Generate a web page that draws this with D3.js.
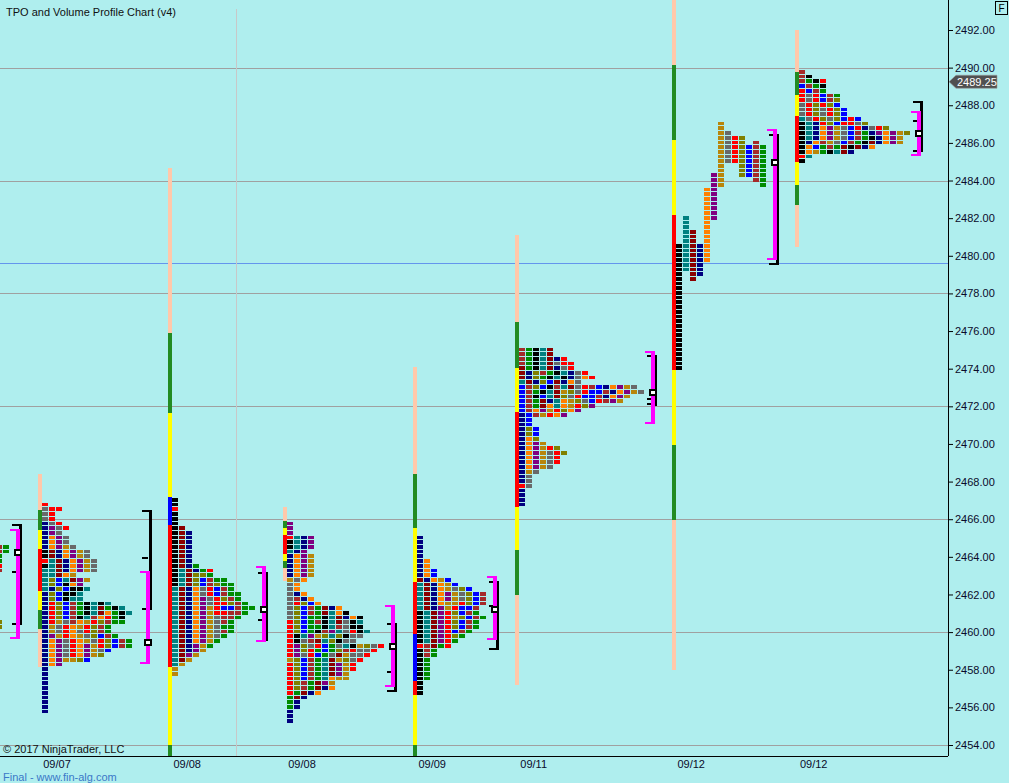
<!DOCTYPE html>
<html><head><meta charset="utf-8">
<script src="https://cdn.jsdelivr.net/npm/d3@7"></script>
<style>
body{margin:0;background:#afeeee;overflow:hidden}
svg{display:block;font-family:"Liberation Sans",Arial,sans-serif}
</style>
</head><body><svg id="c" width="1009" height="783"></svg>
<script>
// ---------------- DATA ----------------
const priceTicks = [2454,2456,2458,2460,2462,2464,2466,2468,2470,2472,2474,2476,2478,2480,2482,2484,2486,2488,2490,2492];
const gridPrices = [2490,2484,2478,2472,2466,2460,2454];
const levelLine = 2479.6;
const lastPrice = 2489.25;
const dateLabels = ["09/07","09/08","09/08","09/09","09/11","09/12","09/12"];
// session start positions on the time axis (slot units, 1 slot = one TPO column)
const sessionSlot = [-1.6, 6, 24.6, 41, 59.6, 74.1, 96.6, 114.1];
const separatorSlot = [33.7];
const bracketSlot = [2.86, 21.43, 38, 56.43, 71, 93.57, 111, 131.57];

// TPO letters per price row (top row first), one char per period
const p0Rows = ["kRe","kRe","ke","ke","kr","kR","","","","","","","","","","","kv","kv"];
const p1Rows = ["r","grr","gr","gr","ngr","npgr","npg","nopg","nopg","nopyg","kdnopyg","kdnopyg","rtdnopyg","ktdnopyg","ttdnopyg","ttdoy","tvbtdpy","tvbkop","tnvbkkt","nvbkkt","nvbktt","nrvbRektkt","nrvbRektdekt","nrvbRektdoekt","nrvbRktRorek","nrygRoyrvRee","nygroyrvRe","nygrogrvRe","npyroygvbRe","nopgroygrvbRe","nopgropyrvbRe","nopgropygb","nopgropyv","nopyyvb","nop","n","n","n","n","n","n","n","n","n","n"];
const p2Rows = ["k","k","r","k","k","k","kd","kdn","kdn","kdn","kdn","kdn","kdn","kdn","kdne","ktdner","ktdvve","ktdvbRee","ktdvbRvee","tdnogrbRe","tdnogrbRee","tdnopgrvRe","tdnopgrrvRe","tdnopyrbbRee","tdnopyrrRRe","tdnopygRRe","tdnopygRe","tdnopygee","tdnopygRe","tdnopyge","tdnopye","tdnpye","tdnpy","tdpy","tdy","ty","y","y"];
const p3Rows = ["p","p","p","rtnp","ktnp","ktnp","tnp","nopy","nopy","nopy","nopy","nopy","ygo","go","go","gno","gRno","grvbo","gvbRedno","gvbRedtok","gvbeektdnok","rvbeRktdgkt","rvbeektRgkk","rvbekRptgrkt","rktpyvtvkgg","rkgRdtvkgg","rpvgrbegtkyvgr","rpvrebevRrggr","rpgrbegdyggr","yvbRetdyvgr","rvbRetdpyr","rvbRetdpyr","rvbRetdpy","rvbRetoyy","rvRedpy","rvRedno","redno","edn","en","en","n","n","n"];
const p4Rows = ["n","n","n","n","n","no","no","nob","nob","dnoyb","tdnoyb","tdnoygvb","tdnopygvbR","tdnopygvbR","tdnoyyrvbR","tdnpyrbbR","ktdprvbRe","ktdpryvbRe","ktdprvbRe","ktdprvbRe","ktdprbRe","ktdprve","ktdpre","rRder","kRe","kRe","ke","ke","ke","ke","ke","k","k","k"];
const p5Rows = ["Rektd","Rektd","Rektdnr","Rektdgrr","dektdngr","dnvRektngr","dnvektkngor","tdnvbdnog","bRvbkRtdgrRbnopyg","bRektdyvgrbbRnopyg","bRkbtdvgrbbRnopy","bRedntoyvgbrRpy","bRedotoyrvp","bRopyrvop","nbRyrop","nb","nb","nvb","nvb","nov","nopy","nopyrv","nopygrv","nopygr","nopygr","nopyg","nyg","ng","ng","rg","n","n","n","n"];
// split profile: one column per period [letter, high, low]
const p6Cols = [["k",2480.5,2474.0],["t",2482.0,2479.25],["d",2481.25,2478.75],["n",2480.5,2479.0],["o",2483.5,2479.75],["p",2484.25,2482.0],["y",2487.0,2483.75],["g",2486.5,2485.0],["r",2486.25,2485.0],["v",2486.25,2484.25],["b",2485.75,2484.25],["R",2486.0,2484.0],["e",2485.75,2483.75]];
const p7Rows = ["R","Rk","Rekr","bRek","rbRe","rgrbRe","rgrbRv","grvrvb","grvgrvb","grvgrvb","tgrvgvbrb","ktnrvbrrgv","ktnopygbrngrv","ktnopygbRenpopyv","ktnopygbReknopy","knoRygbRekdnopy","kobeRedkdno","koyektdn","rt","k"];
const profileTop = [2464.5, 2466.75, 2467.0, 2465.75, 2465.0, 2475.0, null, 2489.75];
const profileRows = [p0Rows, p1Rows, p2Rows, p3Rows, p4Rows, p5Rows, null, p7Rows];

// range bars: [zone, high, low]
const rangeBars = [
  null,
  [["x",2468.4,2466.5],["g",2466.5,2465.43],["y",2465.43,2464.42],["r",2464.42,2462.18],["y",2462.18,2461.17],["g",2461.17,2460.17],["x",2460.17,2458.15]],
  [["x",2484.67,2475.9],["g",2475.9,2471.64],["y",2471.64,2467.18],["b",2467.18,2465.69],["r",2465.69,2458.15],["y",2458.15,2454.0],["g",2454.0,2453.0]],
  [["x",2466.65,2465.9],["g",2465.9,2465.53],["y",2465.53,2465.16],["r",2465.16,2464.15],["y",2464.15,2463.78],["g",2463.78,2463.4],["x",2463.4,2462.7]],
  [["x",2474.09,2468.4],["g",2468.4,2465.53],["y",2465.53,2462.66],["r",2462.66,2459.9],["b",2459.9,2457.4],["r",2457.4,2456.66],["y",2456.66,2454.0],["g",2454.0,2453.0]],
  [["x",2481.1,2476.48],["g",2476.48,2474.04],["y",2474.04,2471.7],["r",2471.7,2466.65],["y",2466.65,2464.36],["g",2464.36,2461.97],["x",2461.97,2457.19]],
  [["x",2493.6,2490.14],["g",2490.14,2486.15],["y",2486.15,2482.17],["r",2482.17,2473.93],["y",2473.93,2469.94],["g",2469.94,2465.96],["x",2465.96,2457.99]],
  [["x",2492.0,2489.77],["g",2489.77,2488.55],["y",2488.55,2487.43],["r",2487.43,2484.98],["y",2484.98,2483.76],["g",2483.76,2482.7],["x",2482.7,2480.47]]
];
// value area (magenta) and initial balance (black) brackets, POC
const vaHigh = [2465.5, 2463.25, 2463.5, 2461.44, 2462.98, 2474.94, 2486.74, 2487.7];
const vaLow  = [2459.75, 2458.4, 2459.6, 2457.19, 2459.69, 2471.17, 2479.88, 2485.41];
const ibHigh = [2465.75, 2466.5, 2463.2, 2460.48, 2462.72, 2474.73, 2486.47, 2488.23];
const ibLow  = [2460.5, 2461.3, 2459.63, 2456.92, 2459.16, 2472.12, 2479.62, 2485.62];
const ibTicks = [[2463.25],[2464.0],[2460.7],[2457.93],[2461.44],[2472.44,2472.2],[],[2487.22]];
const ibCapBottom = [true,true,false,true,true,false,true,true];
const pocPrice = [2464.25, 2459.5, 2461.25, 2459.25, 2461.25, 2472.75, 2485.0, 2486.5];

// ---------------- STYLE ----------------
const tpoColor = {r:"#ff0000",R:"#a52a2a",d:"#8b0000",g:"#696969",n:"#000080",b:"#0000ff",p:"#800080",
  o:"#ff8000",y:"#b8860b",v:"#808000",t:"#008080",k:"#000000",e:"#008c00"};
const barColor = {x:"#ffc8aa",g:"#228b22",y:"#ffff00",r:"#ff0000",b:"#0000ff"};

// ---------------- CHART ----------------
const W = 1009, H = 783, plotR = 948, plotB = 756;
const svg = d3.select("#c");
svg.append("rect").attr("width",W).attr("height",H).attr("fill","#afeeee");
const y = d3.scaleLinear().domain([2454,2492]).range([745,30]);
const x = d3.scaleLinear().domain([0,135]).range([0,945]);
const TICK = 0.25;

svg.append("defs").append("clipPath").attr("id","plot")
  .append("rect").attr("x",0).attr("y",0).attr("width",plotR).attr("height",plotB);
const g = svg.append("g").attr("clip-path","url(#plot)").attr("shape-rendering","crispEdges");

// grid lines
g.selectAll(".hg").data(gridPrices).join("line")
  .attr("x1",0).attr("x2",plotR).attr("y1",d=>Math.round(y(d))+0.5).attr("y2",d=>Math.round(y(d))+0.5)
  .attr("stroke","#a0a0a0").attr("stroke-width",1);
g.append("line").attr("x1",0).attr("x2",plotR)
  .attr("y1",Math.round(y(levelLine))+0.5).attr("y2",Math.round(y(levelLine))+0.5)
  .attr("stroke","#6495ed").attr("stroke-width",1);
g.selectAll(".vg").data(separatorSlot).join("line")
  .attr("x1",d=>Math.round(x(d))+0.5).attr("x2",d=>Math.round(x(d))+0.5)
  .attr("y1",9).attr("y2",plotB).attr("stroke","#c8c8c8");

// range bars
rangeBars.forEach((segs,i)=>{
  if(!segs) return;
  const bx = Math.round(x(sessionSlot[i]))-4;
  g.append("g").selectAll("rect").data(segs).join("rect")
    .attr("x",bx).attr("width",4)
    .attr("y",d=>Math.round(y(d[1]))).attr("height",d=>Math.max(1,Math.round(y(d[2]))-Math.round(y(d[1]))))
    .attr("fill",d=>barColor[d[0]]);
});

// TPO boxes
function boxY(p){ return Math.round(y(p+TICK/2)); }
function boxH(p){ return Math.round(y(p-TICK/2)) - Math.round(y(p+TICK/2)) - 1; }
profileRows.forEach((rows,i)=>{
  if(!rows) return;
  const cells = [];
  rows.forEach((s,r)=>{
    const price = profileTop[i] - r*TICK;
    [...s].forEach((ch,c)=>{ if(ch!=='.') cells.push({price, c, ch}); });
  });
  g.append("g").selectAll("rect").data(cells).join("rect")
    .attr("x",d=>Math.round(x(sessionSlot[i]+d.c)))
    .attr("width",6)
    .attr("y",d=>boxY(d.price)).attr("height",d=>boxH(d.price))
    .attr("fill",d=>tpoColor[d.ch]);
});
// split profile
(function(){
  const i = 6, cells = [];
  p6Cols.forEach((col,c)=>{
    for(let p=col[1]; p>=col[2]-1e-9; p-=TICK) cells.push({price:p, c, ch:col[0]});
  });
  g.append("g").selectAll("rect").data(cells).join("rect")
    .attr("x",d=>Math.round(x(sessionSlot[i]+d.c)))
    .attr("width",6)
    .attr("y",d=>boxY(d.price)).attr("height",d=>boxH(d.price))
    .attr("fill",d=>tpoColor[d.ch]);
})();

// brackets
bracketSlot.forEach((s,i)=>{
  const mx = Math.round(x(s));
  const bg = g.append("g");
  const t1 = Math.round(y(ibHigh[i])), b1 = Math.round(y(ibLow[i]));
  bg.append("rect").attr("x",mx-1).attr("width",3).attr("y",t1).attr("height",b1-t1+2).attr("fill","#000");
  bg.append("rect").attr("x",mx-8).attr("width",10).attr("y",t1).attr("height",2).attr("fill","#000");
  if(ibCapBottom[i]) bg.append("rect").attr("x",mx-8).attr("width",10).attr("y",b1).attr("height",2).attr("fill","#000");
  bg.selectAll(".tk").data(ibTicks[i]).join("rect")
    .attr("x",mx-8).attr("width",6).attr("y",d=>Math.round(y(d))).attr("height",2).attr("fill","#000");
  const t2 = Math.round(y(vaHigh[i])), b2 = Math.round(y(vaLow[i]));
  bg.append("rect").attr("x",mx-4).attr("width",4).attr("y",t2).attr("height",b2-t2+2).attr("fill","#ff00ff");
  bg.append("rect").attr("x",mx-10).attr("width",10).attr("y",t2).attr("height",2).attr("fill","#ff00ff");
  bg.append("rect").attr("x",mx-10).attr("width",10).attr("y",b2).attr("height",2).attr("fill","#ff00ff");
  const py = Math.round(y(pocPrice[i]))-3;
  bg.append("rect").attr("x",mx-6).attr("y",py).attr("width",8).attr("height",7).attr("fill","#000");
  bg.append("rect").attr("x",mx-4).attr("y",py+2).attr("width",4).attr("height",3).attr("fill","#fff");
});

// axes
const axisR = d3.axisRight(y).tickValues(priceTicks).tickFormat(d3.format(".2f")).tickSize(5).tickPadding(2);
const ag = svg.append("g").attr("transform",`translate(${plotR},0)`).call(axisR);
ag.select(".domain").remove();
ag.selectAll("line").attr("stroke","#000");
ag.selectAll("text").attr("font-size",11).attr("fill","#0a0a2a").attr("font-family","'Liberation Sans',Arial,sans-serif");
svg.append("line").attr("x1",plotR+0.5).attr("x2",plotR+0.5).attr("y1",0).attr("y2",plotB).attr("stroke","#000");
svg.append("line").attr("x1",0).attr("x2",plotR).attr("y1",plotB+0.5).attr("y2",plotB+0.5).attr("stroke","#000");

// last price marker
const ly = y(lastPrice);
svg.append("path").attr("d",`M${plotR+1},${ly} L${plotR+8},${ly-6.5} L${plotR+49},${ly-6.5} L${plotR+49},${ly+6.5} L${plotR+8},${ly+6.5} Z`)
  .attr("fill","#505050").attr("stroke","#9a9a9a").attr("stroke-width",0.6);
svg.append("text").attr("x",plotR+9).attr("y",ly+4).attr("fill","#fff").attr("font-size",11).text(d3.format(".2f")(lastPrice));

// F box
svg.append("rect").attr("x",995.5).attr("y",1.5).attr("width",12).attr("height",13).attr("fill","none").attr("stroke","#000");
svg.append("text").attr("x",1001.5).attr("y",12).attr("text-anchor","middle").attr("font-size",10).attr("fill","#000").text("F");

// date labels
svg.selectAll(".dl").data(dateLabels).join("text")
  .attr("x",(d,i)=>x(sessionSlot[i+1])+15).attr("y",768)
  .attr("text-anchor","middle").attr("font-size",11).attr("fill","#0a0a2a").text(d=>d);

// texts
svg.append("text").attr("x",6).attr("y",16).attr("font-size",11).attr("fill","#111").text("TPO and Volume Profile Chart (v4)");
svg.append("text").attr("x",3).attr("y",753).attr("font-size",11).attr("fill","#111").text("© 2017 NinjaTrader, LLC");
svg.append("text").attr("x",3).attr("y",781).attr("font-size",11).attr("fill","#3a78c8").text("Final - www.fin-alg.com");
</script>
</body></html>
